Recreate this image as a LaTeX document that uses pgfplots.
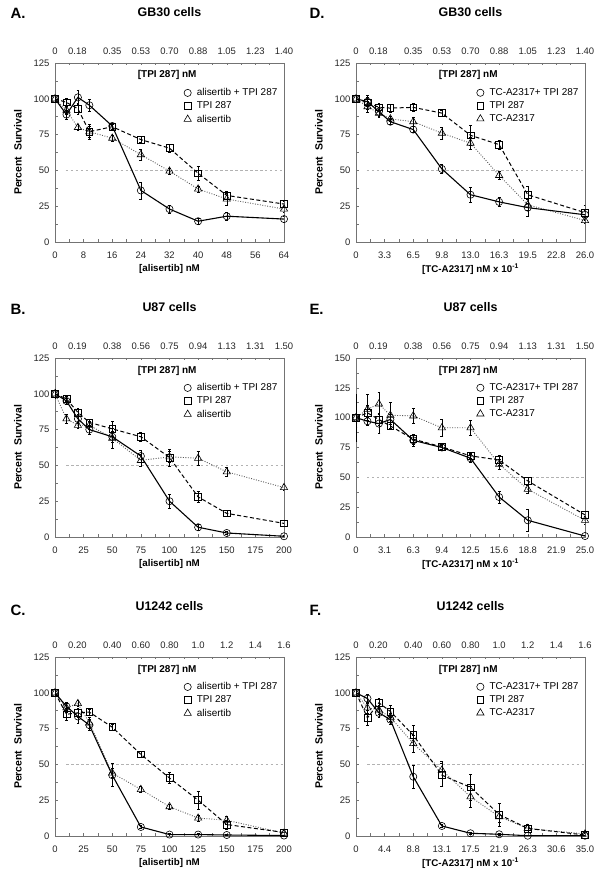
\documentclass[border=0pt]{standalone}
\usepackage{fontspec}
\setmainfont{Liberation Sans}
\usepackage{pgfplots}
\usepackage{pgfplotstable}
\pgfplotsset{compat=1.18}

\tikzset{tpilabel/.style={font=\fontsize{10}{12}\bfseries\selectfont}}
\pgfplotsset{
  panel/.style={
    scale only axis, width=229bp, height=179bp, anchor=south west,
    ymin=0, ymax=125, ytick={0,25,...,125},
    minor x tick num=1, minor y tick num=1,
    ytick pos=left, xtick pos=both,
    tick align=inside,
    major tick length=2.5bp, minor tick length=2.5bp,
    axis line style={black!55, line width=0.6pt},
    tick style={black!55, line width=0.5pt},
    /pgf/number format/assume math mode=true,
    ticklabel style={font=\fontsize{9.5}{11}\selectfont, text=black!85},
    xticklabel shift=6bp, yticklabel shift=2bp,
    every axis title/.style={at={(axis description cs:0.5,1.285)}, anchor=center, font=\fontsize{12.5}{14}\bfseries\selectfont},
    every axis x label/.style={at={(axis description cs:0.5,-0.151)}, anchor=center, font=\fontsize{9.8}{12}\bfseries\selectfont},
    every axis y label/.style={at={(axis description cs:-0.1616,0.5)}, anchor=center, rotate=90, font=\fontsize{10.5}{12}\bfseries\selectfont},
    ylabel={Percent\ \ Survival},
    legend style={at={(axis description cs:0.985,0.875)}, anchor=north east, draw=none, fill=none,
      font=\fontsize{10}{12}\selectfont, row sep=0.6bp, inner sep=1bp,
      /tikz/every odd column/.append style={column sep=3.5bp}},
    legend cell align=left,
    error bars/error bar style={black, line width=0.5pt, solid},
    error bars/error mark options={rotate=90, mark size=1.4bp, black, line width=0.5pt, solid},
  },
  toppanel/.style={
    scale only axis, width=229bp, height=179bp, anchor=south west,
    xmin=0, xmax=8, xtick={0,0.78,2,3,4,5,6,7,8},
    ymin=0, ymax=1, axis x line*=top, hide y axis,
    x axis line style={draw=none}, xtick style={draw=none},
    /pgf/number format/assume math mode=true,
    ticklabel style={font=\fontsize{9.5}{11}\selectfont, text=black!85},
    xticklabel shift=5bp,
  },
  combo/.style={black, line width=1.1pt, mark=o, mark size=3.6bp, mark options={solid, fill=white, line width=0.6pt},
    error bars/y dir=both, error bars/y explicit},
  single/.style={black, line width=1pt, dash pattern=on 4pt off 2.5pt, mark=square, mark size=3.4bp, mark options={solid, fill=white, line width=0.6pt},
    error bars/y dir=both, error bars/y explicit},
  alone/.style={black!65, line width=0.9pt, dash pattern=on 0.9pt off 1.6pt, mark=triangle, mark size=4.2bp, mark options={solid, black, fill=white, line width=0.6pt},
    error bars/y dir=both, error bars/y explicit},
  fifty/.style={black!30, line width=0.6pt, dash pattern=on 2.5pt off 2.5pt},
}

\pgfplotstableread{
x c ce s se t te
0 100 2 100 2 100 2
3.2 89 3 97.5 3 92 3
6.4 101 5 93 4 80 2
9.6 95.5 4 77 4 77 5
16 81 2 80.5 2 72.5 2
24 36 6 71.5 2 61 4
32 23 3 65.5 3 49.5 2
40 14.5 2 48 5 37 2
48 18 3 32.5 3 30 4
64 16 2 26.5 2 23 2
}\dataA

\pgfplotstableread{
x c ce s se t te
0 100 2 100 2 100 2
1.3 98 3 97.5 5 94.5 4
2.6 91 3 94 3 90 3
3.9 84 2 93.5 3 86 2
6.5 78.5 2 94 3 84 3
9.75 51 3 90 2 76 4
13 33 5 74.5 7 69 4
16.25 28 3 68 3 46.5 3
19.5 24 6 33 6 26 4
26 19 3 20.5 5 15 2
}\dataD

\pgfplotstableread{
x c ce s se t te
0 100 3 100 3 100 3
10 95 2 96.5 2 82.5 3
20 82.5 3 87 3 78 2
30 75 3 80 2 78 3
50 70 4 75.5 5 69 7
75 56.5 4 70 3 53.5 4
100 25 5 55.5 6 56 4
125 6.8 2 28 4 55 5
150 2.8 1 16.5 2 45.5 3
200 0.5 1 9.5 2 34.5 2
}\dataB

\pgfplotstableread{
x c ce s se t te
0 100 20 100 5 100 8
1.25 97 3 104 6 107 13
2.5 95 8 98.5 5 111.5 10
3.75 98.5 4 93 3 102 11
6.25 81 5 82 4 101.5 6
9.375 75 2 75.5 2 91.5 7
12.5 66 3 68 2 91.5 6
15.625 33.5 5 64.5 4 61 4
18.75 14 9 47 3 40 3
25 0.8 1 18.5 3 14 3
}\dataE

\pgfplotstableread{
x c ce s se t te
0 100 2 100 2 100 2
10 90.5 3 85 4 89.5 3
20 83.5 5 86 3 92.5 2
30 77.5 4 86.5 2 79 4
50 42.5 8 76 2 44 3
75 6.3 1 57 2 32.5 2
100 1 1 40.5 4 20.5 2
125 1 1 25 6 12.5 2
150 0.7 0.5 8 3 11 3
200 0.3 0.5 2.5 2 2 2
}\dataC

\pgfplotstableread{
x c ce s se t te
0 100 2 100 2 100 2
1.75 96 3 82.5 5 89.5 4
3.5 86 3 93 3 88 3
5.25 81.3 3 87 4 83 3
8.75 41.4 8 70.4 7 64.6 6
13.125 7 1 42.5 8 46 6
17.5 1.9 1 34 9 27.4 7
21.875 1.2 1 15 8 13.5 4
26.25 0.2 0.5 5.3 3 5.3 3
35 0.2 0.5 0.7 1 1.4 1
}\dataF

\begin{document}
\begin{tikzpicture}[x=1bp, y=1bp]
\useasboundingbox (0,0) rectangle (604,878);

% ---------------- A ----------------
\begin{axis}[toppanel, at={(55bp,636bp)},
  xticklabels={0,0.18,0.35,0.53,0.70,0.88,1.05,1.23,1.40}]
\end{axis}
\begin{axis}[panel, at={(55bp,636bp)}, xmin=0, xmax=64,
  xtick={0,8,...,64}, title={GB30 cells}, xlabel={[alisertib] nM}]
\addplot[fifty, forget plot] coordinates {(3,50) (64,50)};
\addplot[alone, forget plot] table[x=x, y=t, y error=te] {\dataA};
\addplot[single, forget plot] table[x=x, y=s, y error=se] {\dataA};
\addplot[combo, forget plot] table[x=x, y=c, y error=ce] {\dataA};
\addlegendimage{only marks, mark=o, mark size=3.6bp, black, mark options={fill=white, line width=0.6pt}}
\addlegendentry{alisertib + TPI 287}
\addlegendimage{only marks, mark=square, mark size=3.4bp, black, mark options={fill=white, line width=0.6pt}}
\addlegendentry{TPI 287}
\addlegendimage{only marks, mark=triangle, mark size=4.2bp, black, mark options={fill=white, line width=0.6pt}}
\addlegendentry{alisertib}
\node[tpilabel] at (axis description cs:0.49,0.933) {[TPI 287] nM};
\end{axis}

% ---------------- D ----------------
\begin{axis}[toppanel, at={(356bp,636bp)},
  xticklabels={0,0.18,0.35,0.53,0.70,0.88,1.05,1.23,1.40}]
\end{axis}
\begin{axis}[panel, at={(356bp,636bp)}, xmin=0, xmax=26,
  xtick={0,3.25,6.5,9.75,13,16.25,19.5,22.75,26},
  xticklabels={0,3.3,6.5,9.8,13.0,16.3,19.5,22.8,26.0},
  title={GB30 cells}, xlabel={[TC-A2317] nM x 10\textsuperscript{-1}}]
\addplot[fifty, forget plot] coordinates {(1.2,50) (26,50)};
\addplot[alone, forget plot] table[x=x, y=t, y error=te] {\dataD};
\addplot[single, forget plot] table[x=x, y=s, y error=se] {\dataD};
\addplot[combo, forget plot] table[x=x, y=c, y error=ce] {\dataD};
\addlegendimage{only marks, mark=o, mark size=3.6bp, black, mark options={fill=white, line width=0.6pt}}
\addlegendentry{TC-A2317+ TPI 287}
\addlegendimage{only marks, mark=square, mark size=3.4bp, black, mark options={fill=white, line width=0.6pt}}
\addlegendentry{TPI 287}
\addlegendimage{only marks, mark=triangle, mark size=4.2bp, black, mark options={fill=white, line width=0.6pt}}
\addlegendentry{TC-A2317}
\node[tpilabel] at (axis description cs:0.49,0.933) {[TPI 287] nM};
\end{axis}

% ---------------- B ----------------
\begin{axis}[toppanel, at={(55bp,341bp)},
  xticklabels={0,0.19,0.38,0.56,0.75,0.94,1.13,1.31,1.50}]
\end{axis}
\begin{axis}[panel, at={(55bp,341bp)}, xmin=0, xmax=200,
  xtick={0,25,...,200}, title={U87 cells}, xlabel={[alisertib] nM}]
\addplot[fifty, forget plot] coordinates {(10,50) (200,50)};
\addplot[alone, forget plot] table[x=x, y=t, y error=te] {\dataB};
\addplot[single, forget plot] table[x=x, y=s, y error=se] {\dataB};
\addplot[combo, forget plot] table[x=x, y=c, y error=ce] {\dataB};
\addlegendimage{only marks, mark=o, mark size=3.6bp, black, mark options={fill=white, line width=0.6pt}}
\addlegendentry{alisertib + TPI 287}
\addlegendimage{only marks, mark=square, mark size=3.4bp, black, mark options={fill=white, line width=0.6pt}}
\addlegendentry{TPI 287}
\addlegendimage{only marks, mark=triangle, mark size=4.2bp, black, mark options={fill=white, line width=0.6pt}}
\addlegendentry{alisertib}
\node[tpilabel] at (axis description cs:0.49,0.93) {[TPI 287] nM};
\end{axis}

% ---------------- E ----------------
\begin{axis}[toppanel, at={(356bp,341bp)},
  xticklabels={0,0.19,0.38,0.56,0.75,0.94,1.13,1.31,1.50}]
\end{axis}
\begin{axis}[panel, at={(356bp,341bp)}, xmin=0, xmax=25, ymax=150, ytick={0,25,...,150},
  xtick={0,3.125,6.25,9.375,12.5,15.625,18.75,21.875,25},
  xticklabels={0,3.1,6.3,9.4,12.5,15.6,18.8,21.9,25.0},
  title={U87 cells}, xlabel={[TC-A2317] nM x 10\textsuperscript{-1}}]
\addplot[fifty, forget plot] coordinates {(1.2,50) (25,50)};
\addplot[alone, forget plot] table[x=x, y=t, y error=te] {\dataE};
\addplot[single, forget plot] table[x=x, y=s, y error=se] {\dataE};
\addplot[combo, forget plot] table[x=x, y=c, y error=ce] {\dataE};
\addlegendimage{only marks, mark=o, mark size=3.6bp, black, mark options={fill=white, line width=0.6pt}}
\addlegendentry{TC-A2317+ TPI 287}
\addlegendimage{only marks, mark=square, mark size=3.4bp, black, mark options={fill=white, line width=0.6pt}}
\addlegendentry{TPI 287}
\addlegendimage{only marks, mark=triangle, mark size=4.2bp, black, mark options={fill=white, line width=0.6pt}}
\addlegendentry{TC-A2317}
\node[tpilabel] at (axis description cs:0.49,0.93) {[TPI 287] nM};
\end{axis}

% ---------------- C ----------------
\begin{axis}[toppanel, at={(55bp,42bp)},
  xticklabels={0,0.20,0.40,0.60,0.80,1.0,1.2,1.4,1.6}]
\end{axis}
\begin{axis}[panel, at={(55bp,42bp)}, xmin=0, xmax=200,
  xtick={0,25,...,200}, title={U1242 cells}, xlabel={[alisertib] nM}]
\addplot[fifty, forget plot] coordinates {(10,50) (200,50)};
\addplot[alone, forget plot] table[x=x, y=t, y error=te] {\dataC};
\addplot[single, forget plot] table[x=x, y=s, y error=se] {\dataC};
\addplot[combo, forget plot] table[x=x, y=c, y error=ce] {\dataC};
\addlegendimage{only marks, mark=o, mark size=3.6bp, black, mark options={fill=white, line width=0.6pt}}
\addlegendentry{alisertib + TPI 287}
\addlegendimage{only marks, mark=square, mark size=3.4bp, black, mark options={fill=white, line width=0.6pt}}
\addlegendentry{TPI 287}
\addlegendimage{only marks, mark=triangle, mark size=4.2bp, black, mark options={fill=white, line width=0.6pt}}
\addlegendentry{alisertib}
\node[tpilabel] at (axis description cs:0.49,0.93) {[TPI 287] nM};
\end{axis}

% ---------------- F ----------------
\begin{axis}[toppanel, at={(356bp,42bp)},
  xticklabels={0,0.20,0.40,0.60,0.80,1.0,1.2,1.4,1.6}]
\end{axis}
\begin{axis}[panel, at={(356bp,42bp)}, xmin=0, xmax=35,
  xtick={0,4.375,8.75,13.125,17.5,21.875,26.25,30.625,35},
  xticklabels={0,4.4,8.8,13.1,17.5,21.9,26.3,30.6,35.0},
  title={U1242 cells}, xlabel={[TC-A2317] nM x 10\textsuperscript{-1}}]
\addplot[fifty, forget plot] coordinates {(1.75,50) (35,50)};
\addplot[alone, forget plot] table[x=x, y=t, y error=te] {\dataF};
\addplot[single, forget plot] table[x=x, y=s, y error=se] {\dataF};
\addplot[combo, forget plot] table[x=x, y=c, y error=ce] {\dataF};
\addlegendimage{only marks, mark=o, mark size=3.6bp, black, mark options={fill=white, line width=0.6pt}}
\addlegendentry{TC-A2317+ TPI 287}
\addlegendimage{only marks, mark=square, mark size=3.4bp, black, mark options={fill=white, line width=0.6pt}}
\addlegendentry{TPI 287}
\addlegendimage{only marks, mark=triangle, mark size=4.2bp, black, mark options={fill=white, line width=0.6pt}}
\addlegendentry{TC-A2317}
\node[tpilabel] at (axis description cs:0.49,0.93) {[TPI 287] nM};
\end{axis}

% panel letters
\node[anchor=west, font=\fontsize{15}{16}\bfseries\selectfont] at (7,865) {A.};
\node[anchor=west, font=\fontsize{15}{16}\bfseries\selectfont] at (306,865) {D.};
\node[anchor=west, font=\fontsize{15}{16}\bfseries\selectfont] at (7,569) {B.};
\node[anchor=west, font=\fontsize{15}{16}\bfseries\selectfont] at (306,569) {E.};
\node[anchor=west, font=\fontsize{15}{16}\bfseries\selectfont] at (7,268) {C.};
\node[anchor=west, font=\fontsize{15}{16}\bfseries\selectfont] at (306,268) {F.};
\end{tikzpicture}
\end{document}
